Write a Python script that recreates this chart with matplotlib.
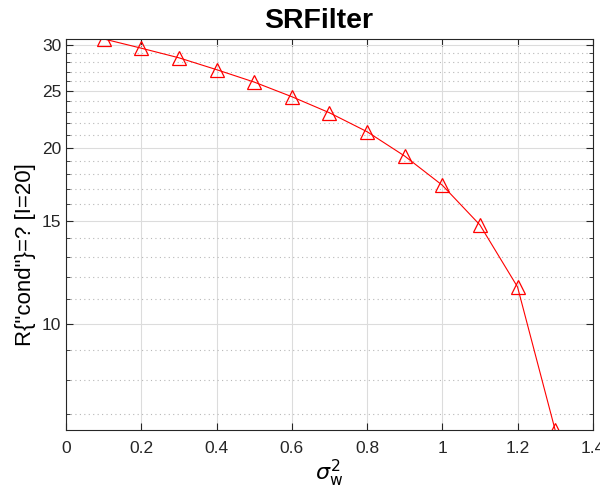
import numpy as np
import matplotlib
matplotlib.use("Agg")
import matplotlib.pyplot as plt
from matplotlib.ticker import FixedLocator, NullFormatter

plt.rcParams["font.family"] = ["Liberation Sans", "DejaVu Sans"]

# 数据
sigma_w2 = [0.1, 0.2, 0.3, 0.4, 0.5, 0.6, 0.7, 0.8, 0.9, 1.0, 1.1, 1.2, 1.3]
reward = [30.7, 29.6, 28.5, 27.2, 25.9, 24.45, 22.95, 21.3, 19.35, 17.25, 14.75, 11.55, 6.57]
y_ticks = [10, 15, 20, 25, 30]
x_ticks = [0, 0.2, 0.4, 0.6, 0.8, 1.0, 1.2, 1.4]
x_tick_labels = ["0", "0.2", "0.4", "0.6", "0.8", "1", "1.2", "1.4"]

fig = plt.figure(figsize=(6.0, 4.99), dpi=100)
ax = fig.add_axes([0.11, 0.138, 0.878, 0.784])

ax.plot(sigma_w2, reward, color="red", linewidth=0.8, marker="^",
        markersize=10, markerfacecolor="none", markeredgecolor="red",
        markeredgewidth=0.9)

ax.set_yscale("log")
ax.set_xlim(0, 1.4)
ax.set_ylim(min(reward), max(reward))

ax.yaxis.set_major_locator(FixedLocator(y_ticks))
ax.set_yticklabels([str(v) for v in y_ticks])
minor = [v for v in range(6, 31) if v not in y_ticks]
ax.yaxis.set_minor_locator(FixedLocator(minor))
ax.yaxis.set_minor_formatter(NullFormatter())
ax.set_xticks(x_ticks)
ax.set_xticklabels(x_tick_labels)

# 网格
ax.grid(True, which="major", color="#dcdcdc", linewidth=0.8, linestyle="-")
ax.grid(True, which="minor", axis="y", color="#b8b8b8", linewidth=0.8,
        linestyle=(0, (1, 3)))
ax.set_axisbelow(True)

for s in ax.spines.values():
    s.set_color("#262626")
    s.set_linewidth(0.8)
ax.tick_params(which="both", direction="in", top=True, right=True,
               colors="#262626", labelsize=12.5)
ax.tick_params(which="major", length=5)
ax.tick_params(which="minor", length=3)
ax.tick_params(axis="x", pad=8)

ax.set_title("SRFilter", fontsize=20.5, fontweight="bold", pad=8, x=0.479)
ax.set_xlabel(r"$\sigma_{\mathrm{w}}^2$", fontsize=16, labelpad=1)
ax.set_ylabel('R{"cond"}=? [I=20]', fontsize=16)
ax.yaxis.set_label_coords(-0.056, 0.448)

fig.savefig("out.png", dpi=100)
